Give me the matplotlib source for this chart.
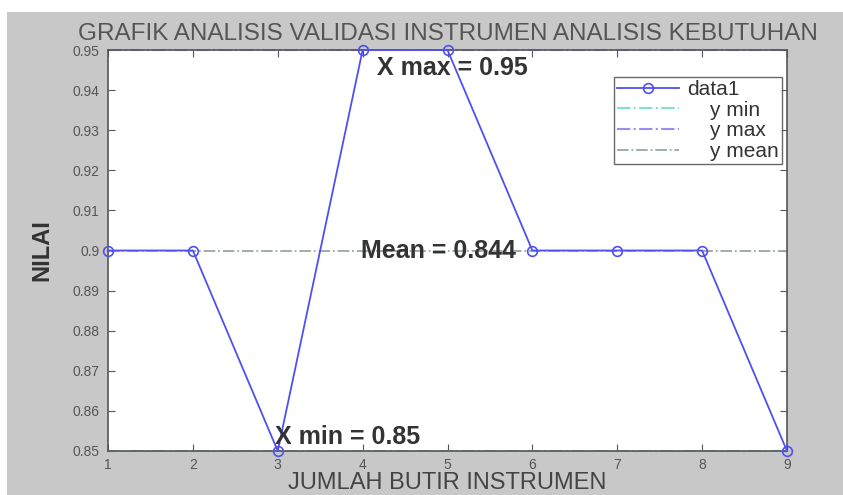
import matplotlib
matplotlib.use("Agg")
import matplotlib.pyplot as plt
from matplotlib.patches import Rectangle

plt.rcParams['font.family'] = ['Liberation Sans', 'DejaVu Sans']

x_vals = [1, 2, 3, 4, 5, 6, 7, 8, 9]
y_vals = [0.90, 0.90, 0.85, 0.95, 0.95, 0.90, 0.90, 0.90, 0.85]
y_min_val = 0.85
y_max_val = 0.95
y_mean_val = 0.90
x_ticks = [1, 2, 3, 4, 5, 6, 7, 8, 9]
y_ticks = [0.85, 0.86, 0.87, 0.88, 0.89, 0.90, 0.91, 0.92, 0.93, 0.94, 0.95]
y_tick_labels = ['0.85', '0.86', '0.87', '0.88', '0.89', '0.9', '0.91', '0.92', '0.93', '0.94', '0.95']
legend_labels = ['data1', '    y min', '    y max', '    y mean']
annotations = [(4.17, 0.9455, 'X max = 0.95'), (3.98, 0.8998, 'Mean = 0.844'), (2.97, 0.8535, 'X min = 0.85')]

W, H = 843, 495
fig = plt.figure(figsize=(W/100, H/100), dpi=100)
fig.patch.set_facecolor('white')
fig.patches.append(Rectangle((7/W, 0), 1 - 7/W, 1 - 12/H, transform=fig.transFigure,
                             facecolor='#c8c8c8', edgecolor='none', zorder=-10))

ax = fig.add_axes([108/W, 1 - 451/H, (787-108)/W, (451-50)/H])
ax.set_facecolor('white')

ax.plot(x_vals, y_vals, '-o', color='#5050f0', lw=1.3, markersize=7,
        markerfacecolor='none', markeredgewidth=1.2, label=legend_labels[0], clip_on=False, zorder=5)
ax.axhline(y_min_val, color='#80e0d8', lw=1.5, ls='-.', label=legend_labels[1], clip_on=False)
ax.axhline(y_max_val, color='#9a8ef0', lw=1.5, ls='-.', label=legend_labels[2], clip_on=False)
ax.axhline(y_mean_val, color='#9aa8a0', lw=1.3, ls='-.', label=legend_labels[3], clip_on=False)

for xa, ya, t in annotations:
    ax.text(xa, ya, t, fontsize=18, fontweight='bold', color='#333333', ha='left', va='center', zorder=6)

ax.set_xlim(1, 9)
ax.set_ylim(0.85, 0.95)
ax.set_xticks(x_ticks)
ax.set_yticks(y_ticks)
ax.set_yticklabels(y_tick_labels)
ax.tick_params(direction='in', length=5, labelsize=10, labelcolor='#555555', color='#555555',
               top=True, right=True)
ax.tick_params(axis='y', pad=6)
ax.tick_params(axis='x', pad=5)
for s in ax.spines.values():
    s.set_color('#555555')
    s.set_linewidth(1.2)

ax.set_title('GRAFIK ANALISIS VALIDASI INSTRUMEN ANALISIS KEBUTUHAN', fontsize=17.5, color='#555555', pad=7)
ax.set_xlabel('JUMLAH BUTIR INSTRUMEN', fontsize=17, color='#444444', labelpad=0)
ax.set_ylabel('NILAI', fontsize=17, fontweight='bold', color='#333333', labelpad=14)

leg = ax.legend(loc='upper right', bbox_to_anchor=(0.992, 0.933), fontsize=15, frameon=True,
                fancybox=False, edgecolor='#444444', borderpad=0.15, labelspacing=0.08,
                handlelength=3.0, handletextpad=0.35, borderaxespad=0)
leg.get_frame().set_linewidth(1.0)
for t in leg.get_texts():
    t.set_color('#333333')

fig.savefig('out.png', dpi=100, facecolor=fig.get_facecolor())
